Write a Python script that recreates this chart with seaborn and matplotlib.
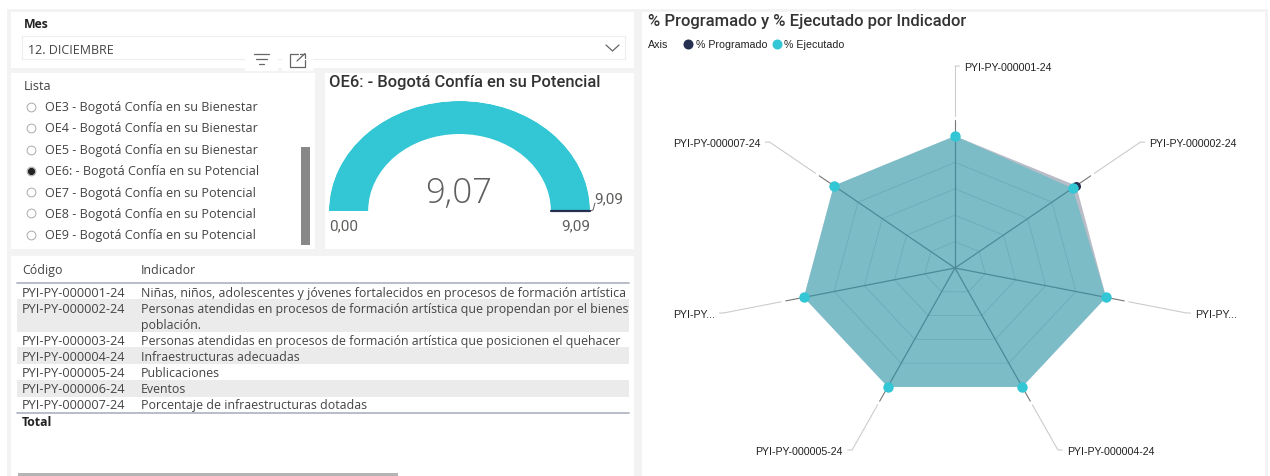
import numpy as np
import pandas as pd
import matplotlib
matplotlib.use("Agg")
import matplotlib.pyplot as plt
from matplotlib.patches import Rectangle
from matplotlib.transforms import Bbox
import seaborn as sns

W, H = 1270, 477

# radar data
codes = ["PYI-PY-000001-24", "PYI-PY-000002-24", "PYI-PY-000003-24", "PYI-PY-000004-24",
         "PYI-PY-000005-24", "PYI-PY-000006-24", "PYI-PY-000007-24"]
radar_labels = ["PYI-PY-000001-24", "PYI-PY-000002-24", "PYI-PY...", "PYI-PY-000004-24",
                "PYI-PY-000005-24", "PYI-PY...", "PYI-PY-000007-24"]
programado = [100, 100, 100, 100, 100, 100, 100]
ejecutado = [100, 97, 100, 100, 100, 100, 100]
rings = [20, 40, 60, 80]

# gauge data
gauge_value = 9.07
gauge_max = 9.09
gauge_target = 9.09

# slicer and table text
lista = ["OE3 - Bogotá Confía en su Bienestar", "OE4 - Bogotá Confía en su Bienestar",
         "OE5 - Bogotá Confía en su Bienestar", "OE6: - Bogotá Confía en su Potencial",
         "OE7 - Bogotá Confía en su Potencial", "OE8 - Bogotá Confía en su Potencial",
         "OE9 - Bogotá Confía en su Potencial"]
lista_y = [107.5, 128.5, 150.5, 171.5, 193, 214, 235.5]
indicadores = ["Niñas, niños, adolescentes y jóvenes fortalecidos en procesos de formación artística",
               "Personas atendidas en procesos de formación artística que propendan por el bienestar de la\npoblación.",
               "Personas atendidas en procesos de formación artística que posicionen el quehacer",
               "Infraestructuras adecuadas", "Publicaciones", "Eventos",
               "Porcentaje de infraestructuras dotadas"]
row_y = [293, 309.5, 341, 357, 373.5, 389.5, 405.5]

TEAL = "#33c6d4"
NAVY = "#252f50"
TXT = "#444444"
UI = "Open Sans"
DIN = "Roboto"
LABEL = "Liberation Sans"

sns.set_theme(style="white")
plt.rcParams["font.family"] = [UI, "DejaVu Sans"]

fig = plt.figure(figsize=(W / 100, H / 100), dpi=100, facecolor="white")

# page in pixel coordinates
page = fig.add_axes([0, 0, 1, 1])
page.set_xlim(0, W)
page.set_ylim(H, 0)
page.axis("off")


def box(x0, y0, x1, y1, color="white", **kw):
    page.add_patch(Rectangle((x0, y0), x1 - x0, y1 - y0, facecolor=color, edgecolor="none", **kw))


def txt(x, y, s, size=8, color=TXT, ha="left", family=UI, **kw):
    return page.text(x, y + 1, s, fontsize=size, color=color, ha=ha, va="center", family=family, **kw)


def polar_axes(cx, cy, rx, ry):
    ax = fig.add_axes([(cx - rx) / W, 1 - (cy + ry) / H, 2 * rx / W, 2 * ry / H], projection="polar")
    ax.set_aspect("auto")
    ax.patch.set_alpha(0)
    return ax


# panels
box(7, 10, 1268, 477, "#f3f3f3")
box(11, 13, 634, 69)
box(11, 74, 315, 250)
box(324.5, 74, 634, 250)
box(11, 257, 634, 477)
box(642, 13, 1264.5, 477)

# Mes slicer
txt(24, 24, "Mes", 8.8, "#222222", weight="bold")
page.add_patch(Rectangle((21.5, 36.5), 603, 23, facecolor="white", edgecolor="#eeeeee", lw=0.8))
txt(28, 49, "12. DICIEMBRE", 9, family=UI)
page.plot([606, 612.5, 619], [46, 52, 46], color="#666666", lw=0.9)

# hover icons
box(245, 52, 278, 72)
box(282, 52, 313, 72)
for x0, x1, y in [(253.5, 269, 54.5), (256, 266.5, 59.5), (258.5, 264, 64.5)]:
    page.plot([x0, x1], [y, y], color="#666666", lw=0.9)
page.plot([298, 290, 290, 305, 305], [54.5, 54.5, 67.5, 67.5, 61], color="#666666", lw=0.9)
page.plot([297, 305], [62, 54.5], color="#666666", lw=0.9)
page.plot([300, 305, 305], [54.5, 54.5, 59], color="#666666", lw=0.9)

# Lista slicer
txt(24, 85.5, "Lista", 9.1)
for i, (label, y) in enumerate(zip(lista, lista_y)):
    page.scatter([30.5], [y], s=40, facecolor="white", edgecolor="#aaaaaa", linewidth=0.7, zorder=3)
    if i == 3:
        page.scatter([30.5], [y], s=18, color="#222222", zorder=4)
    txt(45, y - 0.5, label, 9.1)
box(301, 147.5, 310, 245.5, "#888888")

# gauge
gauge = polar_axes(459.5, 212, 130.5, 110)
gauge.axis("off")
gauge.set_ylim(0, 1)
sweep = np.pi * gauge_value / gauge_max
gauge.bar(np.pi - sweep / 2, 0.3, width=sweep, bottom=0.7, color=TEAL, linewidth=0)
target_angle = np.pi * (1 - gauge_target / gauge_max)
gauge.plot([target_angle, target_angle], [0.7, 1.0], color=NAVY, lw=1.6, clip_on=False)
txt(329, 82, "OE6: - Bogotá Confía en su Potencial", 11.9, "#333333", family=DIN, weight="medium")
txt(459, 192.5, f"{gauge_value:.2f}".replace(".", ","), 25, "#605e5c", ha="center", weight="light")
txt(329.5, 225, "0,00", 11, "#605e5c", family=DIN)
txt(590, 225, f"{gauge_max:.2f}".replace(".", ","), 11, "#605e5c", ha="right", family=DIN)
txt(594, 198.5, f"{gauge_target:.2f}".replace(".", ","), 11, "#605e5c", family=DIN)
page.plot([590, 593, 595], [212, 211, 204], color="#605e5c", lw=0.7)

# table
txt(22, 270, "Código", 8.9)
txt(141, 270, "Indicador", 8.9)
box(17, 300, 628.5, 332.7, "#ebebeb")
box(17, 348.3, 628.5, 365, "#ebebeb")
box(17, 381, 628.5, 397.7, "#ebebeb")
page.plot([17, 628.5], [284, 284], color="#b3b8c4", lw=1.3)
page.plot([17, 628.5], [413.7, 413.7], color="#b3b8c4", lw=1.3)
clip = Bbox([[0, 0], [628.5, H]])
for code, ind, y in zip(codes, indicadores, row_y):
    txt(22, y - 0.5, code, 9.2)
    lines = ind.split("\n")
    for j, line in enumerate(lines):
        t = txt(141, y - 0.5 + 16 * j, line, 8.9)
        t.set_clip_on(True)
        t.set_clip_box(clip)
txt(22, 421.5, "Total", 8.9, "#222222", weight="bold")
box(18, 474, 398, 477, "#b4b4b4")

# radar
txt(648, 20.5, "% Programado y % Ejecutado por Indicador", 12, "#333333", family=DIN, weight="medium")
txt(648, 43.7, "Axis", 7.7, "#222222", family=LABEL)
page.scatter([688], [44.7], s=52, color=NAVY, linewidth=0)
txt(695.5, 43.7, "% Programado", 7.7, "#222222", family=LABEL)
page.scatter([777], [44.7], s=52, color=TEAL, linewidth=0)
txt(784.5, 43.7, "% Ejecutado", 7.7, "#222222", family=LABEL)

REACH = 153
radar = polar_axes(955, 269, 155 * REACH / 100, 132 * REACH / 100)
radar.set_theta_zero_location("N")
radar.set_theta_direction(-1)
theta = np.arange(len(codes)) * 2 * np.pi / len(codes)
closed = np.append(theta, theta[0])

df = pd.DataFrame({"theta": theta, "programado": programado, "ejecutado": ejecutado})
radar.fill(closed, programado + programado[:1], color=NAVY, alpha=0.32, linewidth=0, zorder=1)
radar.fill(closed, ejecutado + ejecutado[:1], color="#2fbcca", alpha=0.44, linewidth=0, zorder=1.1)
for r in rings:
    radar.plot(closed, [r] * len(closed), color="#5f9fae", lw=0.6, alpha=0.55, zorder=2)
for t in theta:
    radar.plot([t, t], [0, 100], color="#4d8a99", lw=0.9, zorder=2)
    radar.plot([t, t], [100, 112], color="#777777", lw=0.8, zorder=1.5)
    radar.plot([t, t], [115, REACH], color="#cccccc", lw=0.8, zorder=1.5)
sns.scatterplot(data=df, x="theta", y="programado", color=NAVY, s=42, linewidth=0, ax=radar, zorder=5)
sns.scatterplot(data=df, x="theta", y="ejecutado", color=TEAL, s=56, linewidth=0, ax=radar, zorder=6)
radar.set_ylim(0, REACH)
radar.set_xlabel("")
radar.set_ylabel("")
radar.set_xticks([])
radar.set_yticks([])
radar.grid(False)
radar.axis("off")

# label sits beside the end of its leader, with a short horizontal elbow
for t, label in zip(theta, radar_labels):
    right = np.sin(t) >= -1e-9
    radar.annotate(label, xy=(t, REACH), xytext=(6.5 if right else -6.5, -0.5), textcoords="offset points",
                   ha="left" if right else "right", va="center", fontsize=7.7, color="#222222",
                   family=LABEL, annotation_clip=False,
                   arrowprops=dict(arrowstyle="-", color="#cccccc", lw=0.8, shrinkA=1, shrinkB=0))

fig.savefig("out.png", dpi=100)
